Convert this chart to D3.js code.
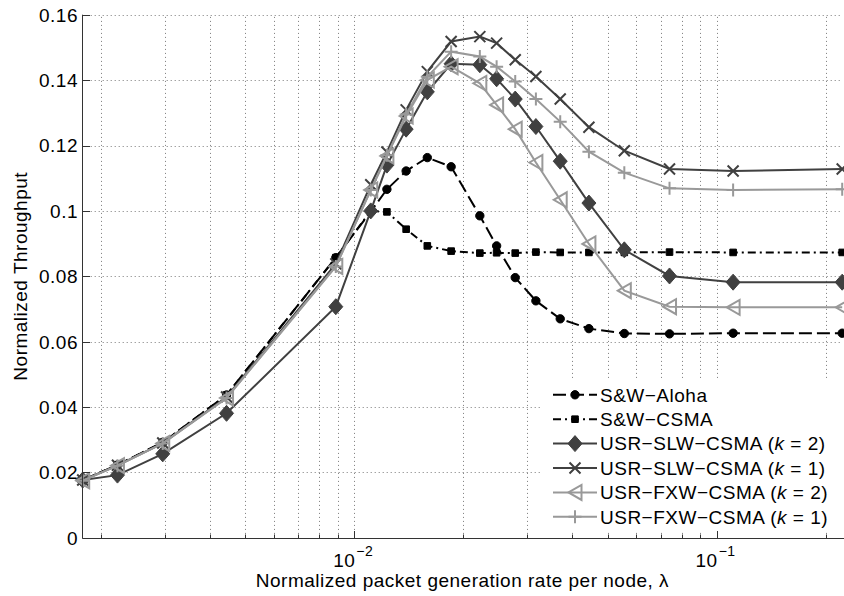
<!DOCTYPE html>
<html>
<head>
<meta charset="utf-8">
<script src="https://cdn.jsdelivr.net/npm/d3@7"></script>
<style>
  body { margin: 0; background: #fff; }
  text { font-family: "Liberation Sans", Arial, Helvetica, sans-serif; fill: #000; }
</style>
</head>
<body>
<div id="chart"></div>
<script>
// normalized packet generation rate per node (x positions of all curves)
const lambda = [0.00178, 0.00222, 0.00296, 0.00444, 0.00889, 0.0111, 0.0123, 0.0139, 0.0159, 0.0185,
                0.0222, 0.0247, 0.0278, 0.0317, 0.037, 0.0444, 0.0556, 0.0741, 0.111, 0.222];

// normalized throughput, one list per curve
const swAloha = [0.0177, 0.0223, 0.0292, 0.0437, 0.0857, 0.0998, 0.1066, 0.1122, 0.1163, 0.1135,
                 0.0985, 0.0893, 0.0796, 0.0725, 0.0670, 0.0640, 0.0625, 0.0624, 0.0626, 0.0626];
const swCsma = [0.0177, 0.0223, 0.0292, 0.0437, 0.0857, 0.1000, 0.0997, 0.0944, 0.0893, 0.0877,
                0.0871, 0.0872, 0.0871, 0.0874, 0.0873, 0.0873, 0.0873, 0.0874, 0.0873, 0.0873];
const slwK2 = [0.0177, 0.0192, 0.0257, 0.0381, 0.0707, 0.1000, 0.1140, 0.1250, 0.1364, 0.1450,
               0.1447, 0.1404, 0.1342, 0.1258, 0.1152, 0.1024, 0.0881, 0.0801, 0.0782, 0.0782];
const slwK1 = [0.0177, 0.0222, 0.0290, 0.0431, 0.0838, 0.1080, 0.1180, 0.1309, 0.1426, 0.1518,
               0.1533, 0.1513, 0.1462, 0.1411, 0.1342, 0.1256, 0.1184, 0.1128, 0.1122, 0.1128];
const fxwK2 = [0.0175, 0.0221, 0.0289, 0.0428, 0.0830, 0.1064, 0.1168, 0.1290, 0.1400, 0.1441,
               0.1390, 0.1324, 0.1250, 0.1148, 0.1034, 0.0899, 0.0756, 0.0707, 0.0705, 0.0705];
const fxwK1 = [0.0175, 0.0221, 0.0289, 0.0428, 0.0830, 0.1064, 0.1170, 0.1295, 0.1410, 0.1487,
               0.1472, 0.1441, 0.1396, 0.1342, 0.1273, 0.1181, 0.1117, 0.1069, 0.1064, 0.1066];

const seriesNames = ["S&W\u2212Aloha", "S&W\u2212CSMA", "USR\u2212SLW\u2212CSMA", "USR\u2212SLW\u2212CSMA",
                     "USR\u2212FXW\u2212CSMA", "USR\u2212FXW\u2212CSMA"];
const seriesK = [null, null, 2, 1, 2, 1];

const yTicks = [0, 0.02, 0.04, 0.06, 0.08, 0.1, 0.12, 0.14, 0.16];
const yTickLabels = ["0", "0.02", "0.04", "0.06", "0.08", "0.1", "0.12", "0.14", "0.16"];
const xMajor = [0.01, 0.1];
const xMajorExp = ["\u22122", "\u22121"];

const xTitle = "Normalized packet generation rate per node, \u03bb";
const yTitle = "Normalized Throughput";

// ---- drawing ----
const width = 844, height = 596;
const dark = "#404040", light = "#999999";

// look of each curve (same order as the series)
const styles = [
    {color: "#000", dash: "13,5", marker: "circle"},
    {color: "#000", dash: "8,4,2,4", marker: "square"},
    {color: dark, dash: null, marker: "diamond"},
    {color: dark, dash: null, marker: "cross"},
    {color: light, dash: null, marker: "triangle"},
    {color: light, dash: null, marker: "plus"}
];
const seriesValues = [swAloha, swCsma, slwK2, slwK1, fxwK2, fxwK1];

const x = d3.scaleLog()
    .domain([lambda[0], lambda[lambda.length - 1]])
    .range([82.7, 842.2]);
const y = d3.scaleLinear()
    .domain([0, 0.16])
    .range([537.9, 14.7]);

const svg = d3.select("#chart")
    .append("svg")
    .attr("width", width)
    .attr("height", height)
    .style("display", "block");

// dotted grid, minor decades included
const grid = svg.append("g")
    .attr("stroke", "#7a7a7a")
    .attr("stroke-width", 1)
    .attr("stroke-dasharray", "1,3");
grid.selectAll("line.gx")
    .data(x.ticks())
    .enter().append("line")
    .attr("class", "gx")
    .attr("x1", d => Math.round(x(d)) + 0.5).attr("x2", d => Math.round(x(d)) + 0.5)
    .attr("y1", y(0)).attr("y2", y(0.16));
grid.selectAll("line.gy")
    .data(yTicks.slice(1))
    .enter().append("line")
    .attr("class", "gy")
    .attr("x1", x.range()[0]).attr("x2", x.range()[1])
    .attr("y1", d => Math.round(y(d)) + 0.5).attr("y2", d => Math.round(y(d)) + 0.5);

// marker shapes
function markerPath(kind) {
    switch (kind) {
        case "circle": return d3.symbol(d3.symbolCircle, 55)();
        case "square": return "M-3.3,-3.3H3.3V3.3H-3.3Z";
        case "diamond": return "M0,-8L7,0L0,8L-7,0Z";
        case "cross": return "M-5.5,-5.5L5.5,5.5M-5.5,5.5L5.5,-5.5";
        case "triangle": return "M-6.5,0L6.5,-7.5L6.5,7.5Z";
        case "plus": return "M-6.5,0H6.5M0,-6.5V6.5";
    }
}
function drawMarker(g, kind, color) {
    const filled = kind === "circle" || kind === "square" || kind === "diamond";
    g.append("path")
        .attr("d", markerPath(kind))
        .attr("fill", filled ? color : "none")
        .attr("stroke", color)
        .attr("stroke-width", filled ? 1 : 2)
        .attr("stroke-linejoin", "miter");
}

const line = d3.line()
    .x(d => x(d[0]))
    .y(d => y(d[1]));

const plot = svg.append("g");
seriesValues.forEach((vals, i) => {
    const st = styles[i];
    const pts = lambda.map((l, j) => [l, vals[j]]);
    plot.append("path")
        .datum(pts)
        .attr("d", line)
        .attr("fill", "none")
        .attr("stroke", st.color)
        .attr("stroke-width", 2)
        .attr("stroke-dasharray", st.dash);
    plot.append("g").selectAll("g")
        .data(pts)
        .enter().append("g")
        .attr("transform", d => `translate(${x(d[0])},${y(d[1])})`)
        .each(function() { drawMarker(d3.select(this), st.marker, st.color); });
});

// axes (box off, ticks pointing in)
const axes = svg.append("g").attr("stroke", "#333").attr("stroke-width", 1);
axes.append("line")
    .attr("x1", 82.5).attr("x2", 82.5)
    .attr("y1", y(0.16)).attr("y2", y(0) + 0.5);
axes.append("line")
    .attr("x1", 82.5).attr("x2", width)
    .attr("y1", 538.5).attr("y2", 538.5);
axes.selectAll("line.ty")
    .data(yTicks)
    .enter().append("line")
    .attr("class", "ty")
    .attr("x1", 82.5).attr("x2", 90)
    .attr("y1", d => Math.round(y(d)) + 0.5).attr("y2", d => Math.round(y(d)) + 0.5);
axes.selectAll("line.tx")
    .data(x.ticks())
    .enter().append("line")
    .attr("class", "tx")
    .attr("x1", d => Math.round(x(d)) + 0.5).attr("x2", d => Math.round(x(d)) + 0.5)
    .attr("y1", 538.5)
    .attr("y2", d => xMajor.includes(d) ? 531 : 534.5);

const fs = 19;
svg.append("g").selectAll("text")
    .data(yTicks)
    .enter().append("text")
    .attr("x", 78)
    .attr("y", d => y(d))
    .attr("dy", "0.36em")
    .attr("text-anchor", "end")
    .attr("font-size", fs)
    .attr("letter-spacing", 0.5)
    .text((d, i) => yTickLabels[i]);

const xl = svg.append("g");
xMajor.forEach((v, i) => {
    xl.append("text")
        .attr("x", x(v) + 1)
        .attr("y", 567)
        .attr("text-anchor", "end")
        .attr("font-size", fs)
        .attr("letter-spacing", 0.5)
        .text("10");
    xl.append("text")
        .attr("x", x(v) + 2)
        .attr("y", 556)
        .attr("font-size", 14)
        .attr("letter-spacing", 0.5)
        .text(xMajorExp[i]);
});

svg.append("text")
    .attr("x", (x.range()[0] + x.range()[1]) / 2)
    .attr("y", 587)
    .attr("text-anchor", "middle")
    .attr("font-size", fs)
    .attr("letter-spacing", 0.5)
    .text(xTitle);

svg.append("text")
    .attr("transform", `translate(27,${(y(0) + y(0.16)) / 2}) rotate(-90)`)
    .attr("text-anchor", "middle")
    .attr("font-size", fs)
    .attr("letter-spacing", 0.5)
    .text(yTitle);

// legend, white box without border
const legend = svg.append("g");
legend.append("rect")
    .attr("x", 540).attr("y", 380)
    .attr("width", 304).attr("height", 150)
    .attr("fill", "#fff");
seriesNames.forEach((name, i) => {
    const st = styles[i];
    const cy = 394.8 + i * 24.4;
    const row = legend.append("g");
    row.append("line")
        .attr("x1", 553).attr("x2", 597)
        .attr("y1", cy).attr("y2", cy)
        .attr("stroke", st.color)
        .attr("stroke-width", 2)
        .attr("stroke-dasharray", st.dash);
    drawMarker(row.append("g").attr("transform", `translate(575,${cy})`), st.marker, st.color);
    const t = row.append("text")
        .attr("x", 600)
        .attr("y", cy)
        .attr("dy", "0.36em")
        .attr("font-size", fs)
        .attr("letter-spacing", 0.5);
    if (seriesK[i] === null) {
        t.text(name);
    } else {
        t.append("tspan").text(name + " (");
        t.append("tspan").attr("font-style", "italic").text("k");
        t.append("tspan").text(" = " + seriesK[i] + ")");
    }
});
</script>
</body>
</html>
